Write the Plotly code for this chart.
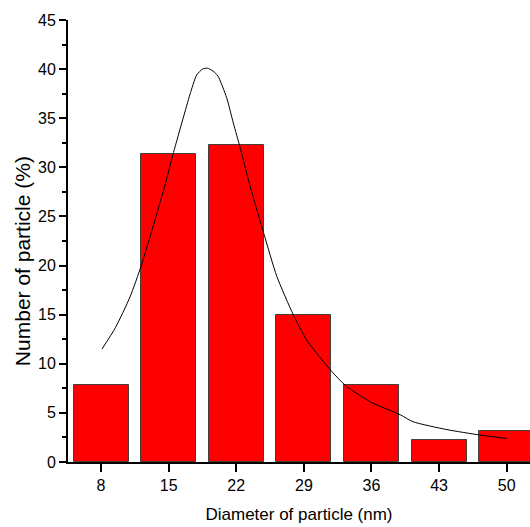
import plotly.graph_objects as go

# Histogram bars
diameters = [8, 15, 22, 29, 36, 43, 50]
percent = [7.8, 31.4, 32.3, 15.0, 7.8, 2.2, 3.2]

# Fitted curve
fit_x = [8.1, 9.5, 11.0, 12.2, 14.6, 15.5, 16.5, 17.2, 17.9, 18.5, 19.0, 19.6, 20.1, 21.0,
         21.7, 22.4, 23.4, 24.9, 26.2, 27.9, 29.3, 31.9, 33.3, 35.9, 39.0, 40.3, 43.8, 47.2, 50.0]
fit_y = [11.5, 13.7, 16.8, 20.1, 28.1, 31.5, 35.0, 37.4, 39.4, 40.0, 40.1, 39.8, 39.3, 37.1,
         34.5, 32.0, 28.2, 23.1, 18.9, 15.0, 12.4, 9.2, 7.8, 6.1, 4.8, 4.1, 3.3, 2.75, 2.4]

x_ticks = [8, 15, 22, 29, 36, 43, 50]
y_ticks = [0, 5, 10, 15, 20, 25, 30, 35, 40, 45]

fig = go.Figure()
fig.add_trace(go.Bar(
    x=diameters, y=percent, width=5.7,
    marker=dict(color="#FF0000", line=dict(color="#404040", width=1)),
    showlegend=False,
))
fig.add_trace(go.Scatter(
    x=fit_x, y=fit_y, mode="lines",
    line=dict(color="black", width=1, shape="spline", smoothing=0.6),
    showlegend=False,
))

font_family = "Liberation Sans, Arial, sans-serif"
fig.update_layout(
    width=530, height=527,
    margin=dict(l=68, r=0, t=20, b=65, pad=0),
    paper_bgcolor="white", plot_bgcolor="white",
    font=dict(family=font_family, color="black", size=16),
    xaxis=dict(
        range=[4.58, 52.41],
        tickvals=x_ticks, ticktext=[str(v) for v in x_ticks],
        showline=True, linecolor="black", linewidth=2,
        ticks="outside", ticklen=8, tickwidth=2, tickcolor="black",
        showgrid=False, zeroline=False,
        tickfont=dict(size=16),
        title=dict(text="Diameter of particle (nm)", font=dict(size=17), standoff=15),
    ),
    yaxis=dict(
        range=[0, 45],
        tickvals=y_ticks,
        showline=True, linecolor="black", linewidth=2,
        ticks="outside", ticklen=7, tickwidth=2, tickcolor="black",
        minor=dict(dtick=2.5, ticks="outside", ticklen=4, tickwidth=1.5, tickcolor="black"),
        showgrid=False, zeroline=False,
        tickfont=dict(size=16),
    ),
    annotations=[dict(
        text="Number of particle (%)", textangle=-90,
        xref="paper", yref="y", x=(22 - 68) / 462, y=20.45,
        xanchor="center", yanchor="middle", showarrow=False,
        font=dict(size=21, family=font_family, color="black"),
    )],
    bargap=0,
)

fig.write_html("out.html")
